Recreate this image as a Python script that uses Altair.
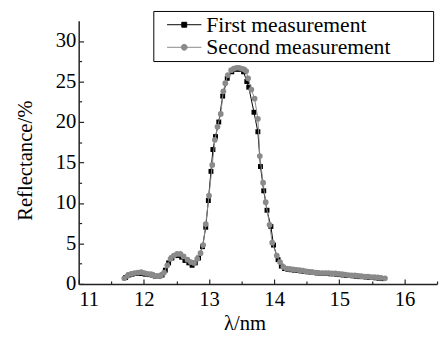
import altair as alt
import pandas as pd

# First measurement (black squares)
first_lam = [11.72, 11.77, 11.82, 11.87, 11.92, 11.97, 12.02, 12.08, 12.13, 12.18,
             12.23, 12.28, 12.33, 12.38, 12.43, 12.48, 12.53, 12.58, 12.63, 12.69,
             12.74, 12.79, 12.84, 12.90, 12.95, 12.99, 13.03, 13.06, 13.10, 13.15,
             13.21, 13.28, 13.35, 13.41, 13.47, 13.53, 13.58, 13.61, 13.69, 13.75,
             13.79, 13.84, 13.89, 13.95, 13.99, 14.06, 14.11, 14.16, 14.21, 14.26,
             14.31, 14.36, 14.41, 14.46, 14.51, 14.56, 14.61, 14.66, 14.71, 14.76,
             14.81, 14.86, 14.91, 14.96, 15.01, 15.06, 15.11, 15.16, 15.21, 15.26,
             15.31, 15.36, 15.41, 15.46, 15.51, 15.56, 15.61, 15.66]
first_R = [0.8, 1.1, 1.2, 1.3, 1.3, 1.3, 1.2, 1.15, 1.1, 0.95,
           0.95, 1.1, 1.7, 2.6, 3.2, 3.5, 3.5, 3.3, 2.9, 2.6,
           2.3, 2.6, 3.2, 4.6, 7.0, 10.3, 13.9, 16.6, 18.2, 20.0,
           23.2, 25.4, 26.2, 26.5, 26.5, 26.2, 25.0, 24.3, 21.2, 18.8,
           14.5, 11.5, 9.1, 7.1, 4.8, 3.0, 2.2, 1.9, 1.8, 1.75,
           1.7, 1.65, 1.6, 1.55, 1.5, 1.45, 1.4, 1.35, 1.3, 1.3,
           1.3, 1.25, 1.25, 1.2, 1.15, 1.1, 1.05, 1.05, 1.0, 0.95,
           0.9, 0.9, 0.85, 0.8, 0.8, 0.75, 0.7, 0.65]

# Second measurement (grey circles)
second_lam = [11.70, 11.75, 11.81, 11.86, 11.91, 11.96, 12.01, 12.06, 12.11, 12.16,
              12.21, 12.26, 12.31, 12.36, 12.41, 12.46, 12.51, 12.56, 12.61, 12.67,
              12.72, 12.77, 12.82, 12.87, 12.91, 12.95, 13.00, 13.05, 13.09, 13.13,
              13.18, 13.22, 13.25, 13.29, 13.34, 13.38, 13.42, 13.46, 13.50, 13.54,
              13.57, 13.60, 13.65, 13.70, 13.75, 13.78, 13.83, 13.87, 13.93, 13.97,
              14.04, 14.09, 14.14, 14.19, 14.24, 14.29, 14.34, 14.39, 14.44, 14.49,
              14.54, 14.59, 14.64, 14.69, 14.74, 14.79, 14.84, 14.89, 14.94, 14.99,
              15.04, 15.09, 15.14, 15.19, 15.24, 15.29, 15.34, 15.39, 15.44, 15.49,
              15.54, 15.59, 15.64, 15.70]
second_R = [0.7, 1.0, 1.25, 1.35, 1.4, 1.45, 1.35, 1.25, 1.2, 1.0,
            0.95, 1.0, 1.4, 2.3, 3.1, 3.5, 3.7, 3.7, 3.4, 3.0,
            2.7, 2.6, 3.1, 3.8, 4.8, 7.4, 10.9, 14.7, 17.8, 19.4,
            21.0, 23.8, 24.8, 25.8, 26.4, 26.6, 26.7, 26.7, 26.6, 26.5,
            26.3, 25.4, 24.0, 22.9, 20.4, 15.8, 12.5, 10.1, 7.3, 5.1,
            3.5, 2.7, 2.1, 1.9, 1.85, 1.8, 1.75, 1.7, 1.65, 1.55,
            1.5, 1.45, 1.4, 1.35, 1.35, 1.35, 1.35, 1.3, 1.3, 1.25,
            1.2, 1.15, 1.1, 1.05, 1.05, 1.0, 0.95, 0.9, 0.9, 0.85,
            0.85, 0.8, 0.75, 0.7]

series_names = ["First measurement", "Second measurement"]
series_colors = ["#000000", "#8a8a8a"]
x_ticks = [11, 11.5, 12, 12.5, 13, 13.5, 14, 14.5, 15, 15.5, 16, 16.5]
y_ticks = [0, 2.5, 5, 7.5, 10, 12.5, 15, 17.5, 20, 22.5, 25, 27.5, 30]

df1 = pd.DataFrame({"lam": first_lam, "R": first_R, "series": series_names[0]})
df2 = pd.DataFrame({"lam": second_lam, "R": second_R, "series": series_names[1]})
df_all = pd.concat([df1, df2], ignore_index=True)

FONT = "Liberation Serif"

x_enc = alt.X(
    "lam:Q",
    scale=alt.Scale(domain=[11, 16.5], nice=False, zero=False),
    axis=alt.Axis(
        values=x_ticks,
        labelExpr="datum.value % 1 === 0 ? format(datum.value, 'd') : ''",
        tickSize={"expr": "datum.value % 1 === 0 ? -5 : -3"},
        labelPadding=10,
        title="λ/nm",
        titleX=169, titleY=40, titleAlign="center", titleBaseline="middle",
        grid=False,
    ),
)
y_enc = alt.Y(
    "R:Q",
    scale=alt.Scale(domain=[0, 32.5], nice=False),
    axis=alt.Axis(
        values=y_ticks,
        labelExpr="datum.value % 5 === 0 ? format(datum.value, 'd') : ''",
        tickSize={"expr": "datum.value % 5 === 0 ? -5 : -3"},
        labelPadding=8,
        title="Reflectance/%",
        titleX=-54, titleY=142, titleAngle=270, titleAlign="center", titleBaseline="middle",
        grid=False,
    ),
)

line1 = alt.Chart(df1).mark_line(color=series_colors[0], strokeWidth=1).encode(x=x_enc, y=y_enc)
pts1 = alt.Chart(df1).mark_point(shape="square", filled=True, color=series_colors[0], size=25, opacity=1).encode(x=x_enc, y=y_enc)
line2 = alt.Chart(df2).mark_line(color=series_colors[1], strokeWidth=1).encode(x=x_enc, y=y_enc)
pts2 = alt.Chart(df2).mark_point(shape="circle", filled=True, color=series_colors[1], size=34, opacity=1).encode(x=x_enc, y=y_enc)

# legend symbols: a line with a marker in its middle (symbol size 400 -> unit = 10px)
sq_path = "M0,0H3.5M1.5,-0.25H2V0.25H1.5Z"
ci_path = "M0,0H3.5M2.05,0A0.3,0.3,0,1,1,1.45,0A0.3,0.3,0,1,1,2.05,0Z"

leg = alt.Legend(
    title="\u00a0", titleOrient="right", titlePadding=40, titleFontSize=10,
    orient="none", legendX=76, legendY=-10,
    labelFont=FONT, labelFontSize=22, labelColor="#000", labelLimit=400,
    strokeColor="#000", fillColor="#ffffff", padding=3, cornerRadius=0,
    symbolSize=400, symbolStrokeWidth=1, symbolOpacity=1,
    labelOffset=29, rowPadding=1,
)
col_scale = alt.Scale(domain=series_names, range=series_colors)
legend_layer = alt.Chart(df_all).mark_point(filled=True, opacity=0, size=1).encode(
    x=x_enc, y=y_enc,
    fill=alt.Fill("series:N", scale=col_scale, legend=leg),
    stroke=alt.Stroke("series:N", scale=col_scale, legend=leg),
    shape=alt.Shape("series:N", scale=alt.Scale(domain=series_names, range=[sq_path, ci_path]), legend=leg),
)

chart = alt.layer(line1, pts1, line2, pts2, legend_layer).properties(
    width=365, height=268,
    autosize=alt.AutoSizeParams(type="none"),
    padding={"left": 72, "top": 10, "right": 3, "bottom": 50},
    background="white",
).configure_view(stroke=None).configure_axis(
    labelFont=FONT, labelFontSize=21, labelColor="#000",
    titleFont=FONT, titleFontSize=21, titleColor="#000", titleFontWeight="normal",
    domainColor="#222", domainWidth=1.5, tickColor="#222", tickWidth=1.2,
)

chart.save("out.html", embed_options={"renderer": "svg", "actions": False})
